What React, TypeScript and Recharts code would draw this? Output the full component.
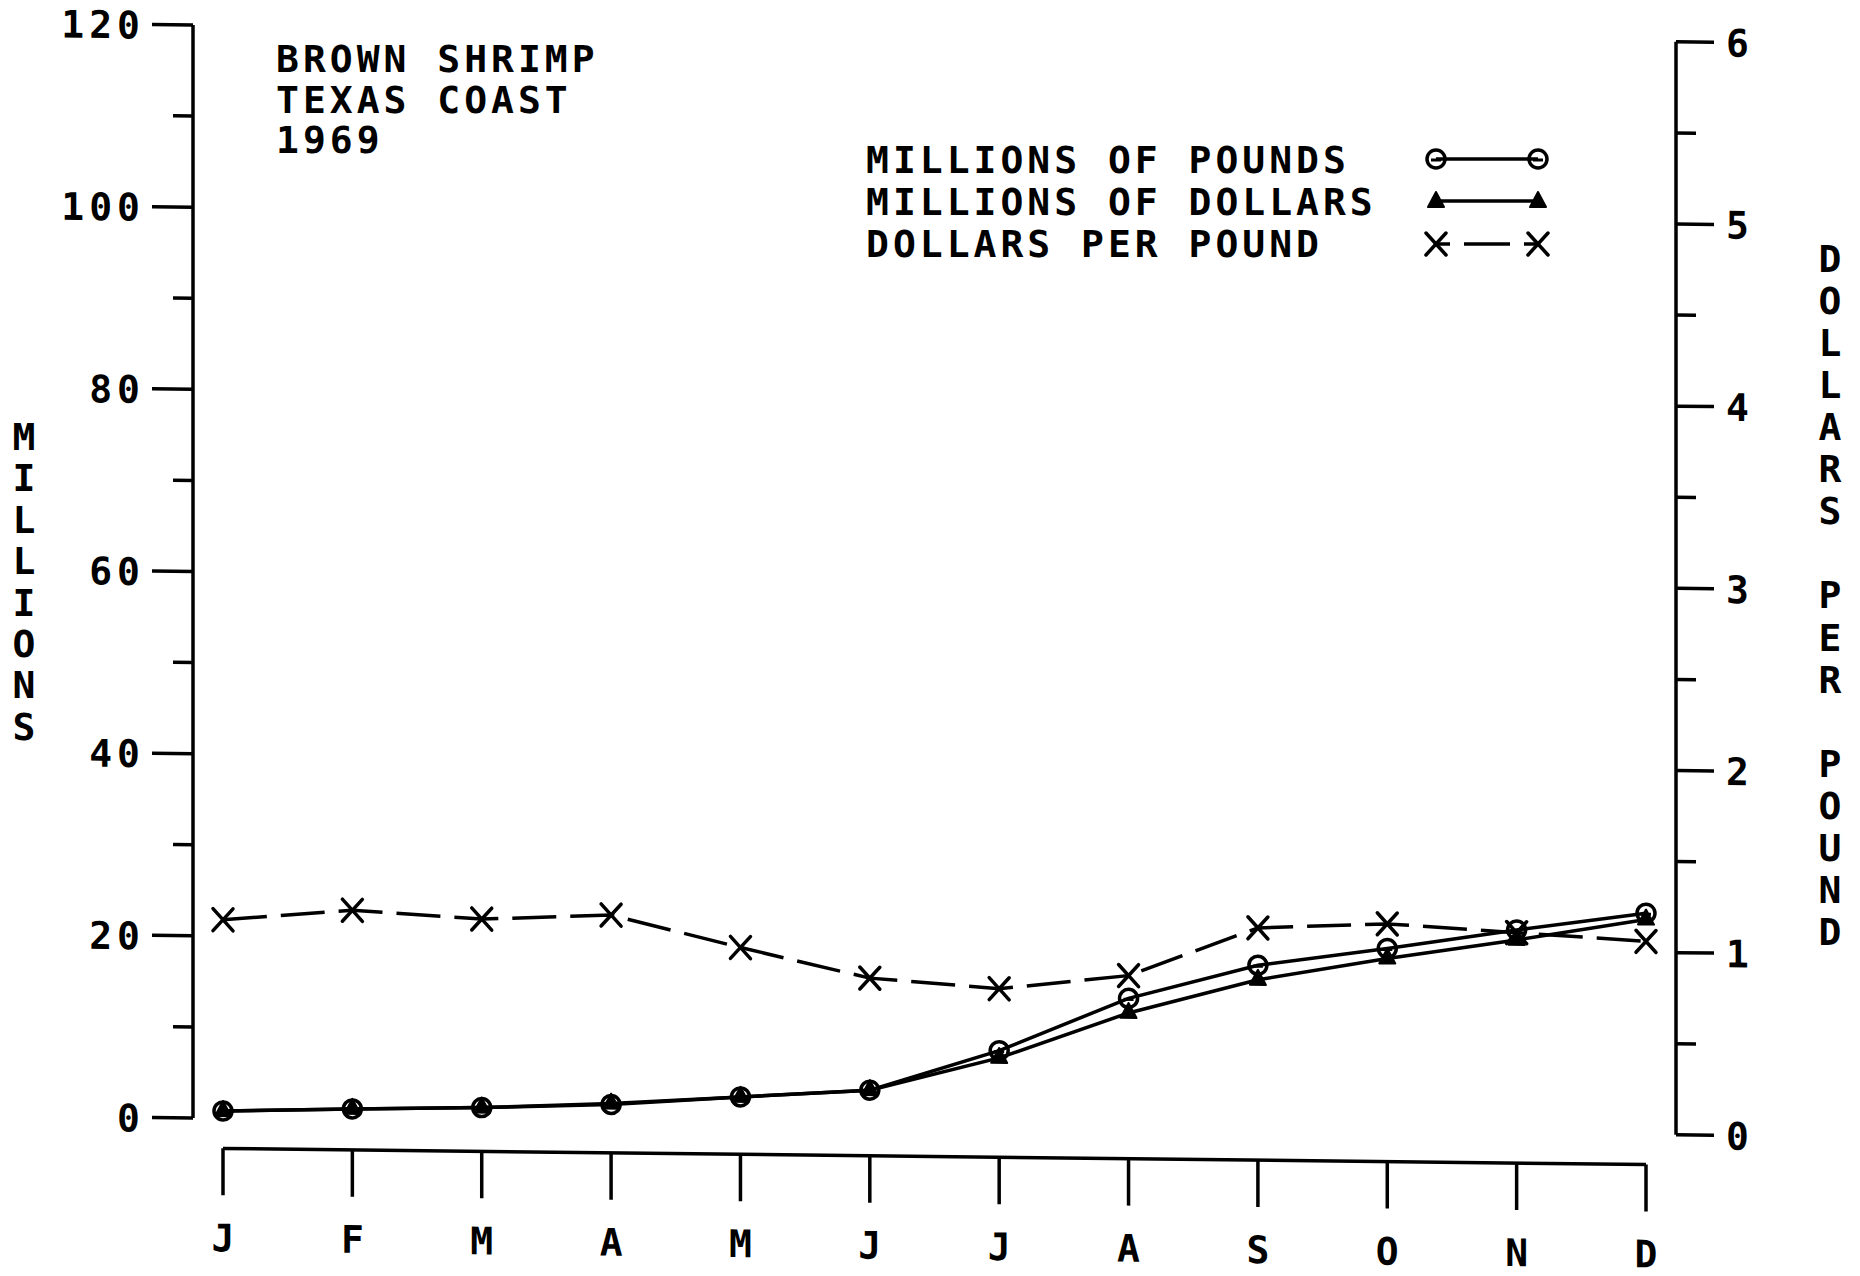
import React from 'react';
import { LineChart, Line, XAxis, YAxis, ReferenceLine } from 'recharts';

const monthKeys = ['Jan', 'Feb', 'Mar', 'Apr', 'May', 'Jun', 'Jul', 'Aug', 'Sep', 'Oct', 'Nov', 'Dec'];
const monthLabels = ['J', 'F', 'M', 'A', 'M', 'J', 'J', 'A', 'S', 'O', 'N', 'D'];
const millionsOfPounds = [0.8, 1.2, 1.5, 2.0, 3.0, 3.9, 8.4, 14.3, 18.1, 20.1, 22.3, 24.3];
const millionsOfDollars = [0.8, 1.2, 1.5, 2.1, 3.0, 3.9, 7.6, 12.7, 16.5, 19.0, 21.2, 23.6];
const dollarsPerPound = [1.09, 1.15, 1.11, 1.14, 0.97, 0.81, 0.76, 0.84, 1.11, 1.14, 1.10, 1.06];
const leftTicks = [0, 10, 20, 30, 40, 50, 60, 70, 80, 90, 100, 110, 120];
const rightTicks = [0, 0.5, 1, 1.5, 2, 2.5, 3, 3.5, 4, 4.5, 5, 5.5, 6];
const titleLines = ['BROWN SHRIMP', 'TEXAS COAST', '1969'];
const legendLabels = ['MILLIONS OF POUNDS', 'MILLIONS OF DOLLARS', 'DOLLARS PER POUND'];
const leftAxisTitle = 'MILLIONS';
const rightAxisTitle = 'DOLLARS PER POUND';

const data = monthKeys.map((k, i) => ({
  key: k,
  pounds: millionsOfPounds[i],
  dollars: millionsOfDollars[i],
  dpp: dollarsPerPound[i],
}));

const FONT = "'DejaVu Sans Mono', monospace";
const FS = 38;
const SW = 3.5;

const CircleMark = ({ cx, cy }: { cx: number; cy: number }) => (
  <g>
    <circle cx={cx} cy={cy} r={9} fill="none" stroke="#000" strokeWidth={3.5} />
    <line x1={cx - 5} y1={cy + 1} x2={cx + 5} y2={cy + 1} stroke="#000" strokeWidth={3} />
  </g>
);

const TriMark = ({ cx, cy }: { cx: number; cy: number }) => (
  <polygon
    points={`${cx},${cy - 10} ${cx - 8},${cy + 5} ${cx + 8},${cy + 5}`}
    fill="#000"
    stroke="#000"
    strokeWidth={2}
    strokeLinejoin="round"
  />
);

const XMark = ({ cx, cy }: { cx: number; cy: number }) => (
  <g stroke="#000" strokeWidth={3.5} strokeLinecap="round">
    <line x1={cx - 10} y1={cy - 11} x2={cx + 10} y2={cy + 11} />
    <line x1={cx - 10} y1={cy + 11} x2={cx + 10} y2={cy - 11} />
  </g>
);

const renderCircle = (p: any) => <CircleMark key={`c-${p.index}`} cx={p.cx} cy={p.cy} />;
const renderTri = (p: any) => <TriMark key={`t-${p.index}`} cx={p.cx} cy={p.cy} />;
const renderX = (p: any) => <XMark key={`x-${p.index}`} cx={p.cx} cy={p.cy} />;

const XTick = (props: any) => {
  const { x, y, payload } = props;
  const label = monthLabels[monthKeys.indexOf(payload.value)];
  return (
    <g>
      <line x1={x} y1={y + 30} x2={x} y2={y + 77} stroke="#000" strokeWidth={SW} />
      <text x={x} y={y + 133} textAnchor="middle" fontFamily={FONT} fontWeight="bold" fontSize={FS} fill="#000">
        {label}
      </text>
    </g>
  );
};

const LeftTick = (props: any) => {
  const { x, y, payload } = props;
  const major = payload.value % 20 === 0;
  const len = major ? 41 : 20;
  return (
    <g>
      <line x1={x - len} y1={y} x2={x} y2={y} stroke="#000" strokeWidth={SW} />
      {major && (
        <text
          x={x - 48}
          y={y + 14}
          textAnchor="end"
          fontFamily={FONT}
          fontWeight="bold"
          fontSize={FS}
          letterSpacing={5}
          fill="#000"
        >
          {payload.value}
        </text>
      )}
    </g>
  );
};

const RightTick = (props: any) => {
  const { x, y, payload } = props;
  const major = Number.isInteger(payload.value);
  const len = major ? 38 : 20;
  return (
    <g>
      <line x1={x} y1={y} x2={x + len} y2={y} stroke="#000" strokeWidth={SW} />
      {major && (
        <text x={x + 50} y={y + 14} textAnchor="start" fontFamily={FONT} fontWeight="bold" fontSize={FS} fill="#000">
          {payload.value}
        </text>
      )}
    </g>
  );
};

const Overlay = () => (
  <svg
    width={1860}
    height={1276}
    style={{ position: 'absolute', left: 0, top: 0, pointerEvents: 'none' }}
  >
    <g fontFamily={FONT} fontWeight="bold" fontSize={FS} fill="#000" letterSpacing={4}>
      {titleLines.map((t, i) => (
        <text key={`ti-${i}`} x={276} y={72 + i * 40.5}>
          {t}
        </text>
      ))}
      {legendLabels.map((t, i) => (
        <text key={`lg-${i}`} x={866} y={173 + i * 42}>
          {t}
        </text>
      ))}
    </g>
    <g fontFamily={FONT} fontWeight="bold" fontSize={FS} fill="#000" textAnchor="middle">
      {leftAxisTitle.split('').map((ch, i) => (
        <text key={`la-${i}`} x={24} y={450 + i * 41.4}>
          {ch}
        </text>
      ))}
      {rightAxisTitle.split('').map((ch, i) =>
        ch === ' ' ? null : (
          <text key={`ra-${i}`} x={1830} y={272 + i * 42.06}>
            {ch}
          </text>
        )
      )}
    </g>
    <line x1={1436} y1={159} x2={1538} y2={159} stroke="#000" strokeWidth={SW} />
    <CircleMark cx={1436} cy={159} />
    <CircleMark cx={1538} cy={159} />
    <line x1={1436} y1={201} x2={1538} y2={201} stroke="#000" strokeWidth={SW} />
    <TriMark cx={1436} cy={202} />
    <TriMark cx={1538} cy={202} />
    <line
      x1={1436}
      y1={244}
      x2={1538}
      y2={244}
      stroke="#000"
      strokeWidth={SW}
      strokeDasharray="14 14 46 14 14"
    />
    <XMark cx={1436} cy={244} />
    <XMark cx={1538} cy={244} />
  </svg>
);

export default function App() {
  return (
    <div style={{ position: 'absolute', left: 0, top: 0, width: 1860, height: 1276, background: '#fff', overflow: 'hidden' }}>
      <div style={{ position: 'absolute', left: 0, top: 0, transform: 'skewY(0.65deg)', transformOrigin: '193px 0px' }}>
        <LineChart
          width={1860}
          height={1276}
          data={data}
          margin={{ top: 25, right: 84, bottom: 38, left: 93 }}
        >
          <XAxis
            dataKey="key"
            scale="point"
            padding={{ left: 30, right: 30 }}
            axisLine={false}
            tickLine={false}
            tickSize={0}
            tickMargin={0}
            interval={0}
            height={120}
            tick={<XTick />}
          />
          <YAxis
            yAxisId="left"
            domain={[0, 120]}
            ticks={leftTicks}
            interval={0}
            width={100}
            axisLine={{ stroke: '#000', strokeWidth: SW }}
            tickLine={false}
            tickSize={0}
            tickMargin={0}
            tick={<LeftTick />}
          />
          <YAxis
            yAxisId="right"
            orientation="right"
            domain={[0, 6]}
            ticks={rightTicks}
            interval={0}
            width={100}
            axisLine={{ stroke: '#000', strokeWidth: SW }}
            tickLine={false}
            tickSize={0}
            tickMargin={0}
            tick={<RightTick />}
          />
          <ReferenceLine
            yAxisId="left"
            segment={[
              { x: monthKeys[0], y: -3.3 },
              { x: monthKeys[monthKeys.length - 1], y: -3.3 },
            ]}
            ifOverflow="visible"
            stroke="#000"
            strokeWidth={SW}
          />
          <Line
            yAxisId="right"
            dataKey="dpp"
            stroke="#000"
            strokeWidth={SW}
            strokeDasharray="44 14"
            dot={renderX}
            activeDot={false}
            isAnimationActive={false}
          />
          <Line
            yAxisId="left"
            dataKey="dollars"
            stroke="#000"
            strokeWidth={SW}
            dot={renderTri}
            activeDot={false}
            isAnimationActive={false}
          />
          <Line
            yAxisId="left"
            dataKey="pounds"
            stroke="#000"
            strokeWidth={SW}
            dot={renderCircle}
            activeDot={false}
            isAnimationActive={false}
          />
        </LineChart>
      </div>
      <Overlay />
    </div>
  );
}
